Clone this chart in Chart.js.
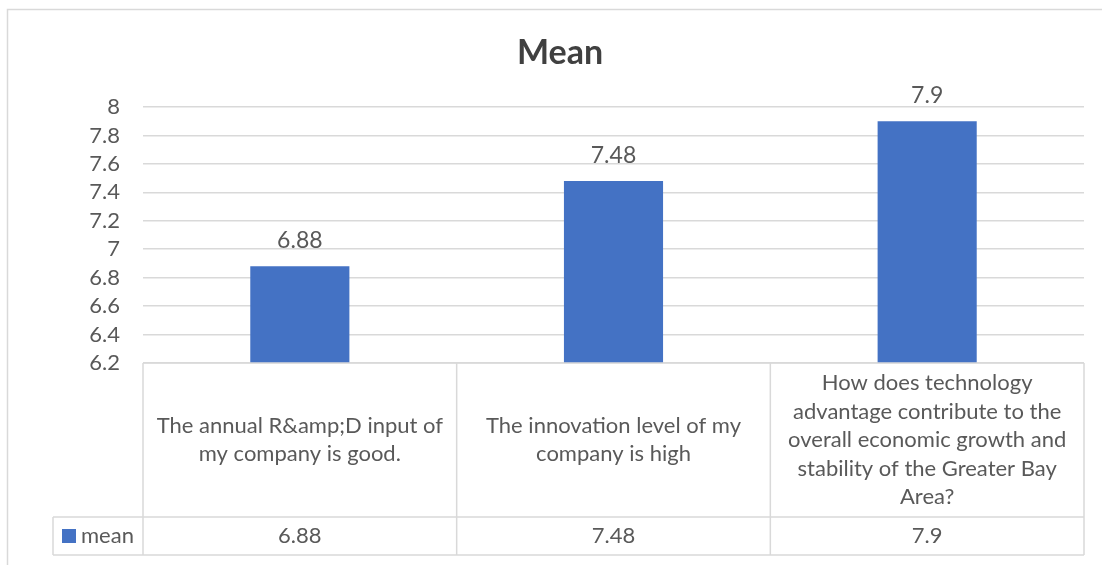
<!DOCTYPE html>
<html>
<head>
<meta charset="utf-8">
<title>Mean</title>
<script src="https://cdn.jsdelivr.net/npm/chart.js@4.4.1/dist/chart.umd.min.js"></script>
<style>
  html, body { margin: 0; padding: 0; background: #ffffff; }
  #wrap { width: 1102px; height: 565px; position: relative; }
</style>
</head>
<body>
<div id="wrap"><canvas id="chart" width="1102" height="565"></canvas></div>
<script>
// Survey statements (pre-wrapped into the lines shown in the data table)
const categories = [
  ['The annual R&amp;D input of', 'my company is good.'],
  ['The innovation level of my', 'company is high'],
  ['How does technology', 'advantage contribute to the', 'overall economic growth and', 'stability of the Greater Bay', 'Area?']
];
const seriesName = 'mean';
const meanValues = [6.88, 7.48, 7.9];
const yMin = 6.2;
const yMax = 8;
const yStep = 0.2;
const chartTitle = 'Mean';

const FONT = 'Lato, "Open Sans", sans-serif';
const TEXT = '#595959';
const LINE = '#d9d9d9';
const BAR = '#4472c4';

const fmt = v => String(Number(Number(v).toFixed(2)));

// Frame, title, bar value labels and the data table under the plot
const decorations = {
  id: 'decorations',
  beforeDraw(chart) {
    const ctx = chart.ctx;
    ctx.save();
    ctx.fillStyle = '#ffffff';
    ctx.fillRect(0, 0, chart.width, chart.height);
    ctx.strokeStyle = LINE;
    ctx.lineWidth = 1.5;
    ctx.strokeRect(7.5, 9.5, 1200, 700);
    ctx.restore();
  },
  afterDatasetsDraw(chart) {
    const ctx = chart.ctx;
    const area = chart.chartArea;
    const x = chart.scales.x;
    const meta = chart.getDatasetMeta(0);
    ctx.save();

    // title
    ctx.fillStyle = '#404040';
    ctx.font = 'bold 34px ' + FONT;
    ctx.textAlign = 'center';
    ctx.textBaseline = 'alphabetic';
    ctx.fillText(chartTitle, 560, 64);

    // value labels above bars
    ctx.fillStyle = TEXT;
    ctx.font = '23px ' + FONT;
    meta.data.forEach((bar, i) => {
      ctx.fillText(fmt(meanValues[i]), bar.x, bar.y - 18);
    });

    // data table
    const n = categories.length;
    const colW = (area.right - area.left) / n;
    const top = area.bottom;
    const rowSplit = 517;
    const bottom = 555;
    const keyLeft = 53;

    ctx.strokeStyle = LINE;
    ctx.lineWidth = 1.5;
    ctx.beginPath();
    // horizontal rules
    ctx.moveTo(area.left, top); ctx.lineTo(area.right, top);
    ctx.moveTo(keyLeft, rowSplit); ctx.lineTo(area.right, rowSplit);
    ctx.moveTo(keyLeft, bottom); ctx.lineTo(area.right, bottom);
    // vertical rules
    for (let i = 0; i <= n; i++) {
      const cx = x.getPixelForValue(0) - colW / 2 + i * colW;
      ctx.moveTo(cx, top); ctx.lineTo(cx, bottom);
    }
    ctx.moveTo(keyLeft, rowSplit); ctx.lineTo(keyLeft, bottom);
    ctx.stroke();

    // category text
    ctx.fillStyle = TEXT;
    ctx.font = '22px ' + FONT;
    ctx.textAlign = 'center';
    ctx.textBaseline = 'middle';
    const lh = 28.5;
    const midY = (top + rowSplit) / 2;
    categories.forEach((lines, i) => {
      const cx = x.getPixelForValue(i);
      const y0 = midY - (lines.length - 1) * lh / 2;
      lines.forEach((ln, k) => ctx.fillText(ln, cx, y0 + k * lh));
    });

    // series row
    const rowMid = (rowSplit + bottom) / 2;
    meanValues.forEach((v, i) => {
      ctx.fillText(fmt(v), x.getPixelForValue(i), rowMid);
    });
    ctx.fillStyle = BAR;
    ctx.fillRect(62, rowMid - 7, 14, 14);
    ctx.fillStyle = TEXT;
    ctx.textAlign = 'left';
    ctx.fillText(seriesName, 81, rowMid);

    ctx.restore();
  }
};

new Chart(document.getElementById('chart'), {
  type: 'bar',
  data: {
    labels: categories,
    datasets: [{
      label: seriesName,
      data: meanValues,
      backgroundColor: BAR,
      borderWidth: 0,
      categoryPercentage: 1,
      barPercentage: 0.316
    }]
  },
  options: {
    responsive: false,
    animation: false,
    events: [],
    layout: { padding: { left: 0, top: 107, right: 18, bottom: 202 } },
    plugins: {
      legend: { display: false },
      title: { display: false },
      tooltip: { enabled: false }
    },
    scales: {
      x: { display: false, offset: true },
      y: {
        min: yMin,
        max: yMax,
        afterFit(scale) { scale.width = 143; },
        border: { display: false },
        grid: { color: LINE, lineWidth: 1.5, drawTicks: false },
        ticks: {
          stepSize: yStep,
          autoSkip: false,
          padding: 23,
          color: TEXT,
          font: { family: FONT, size: 22 },
          callback: v => fmt(v)
        }
      }
    }
  },
  plugins: [decorations]
});
</script>
</body>
</html>
